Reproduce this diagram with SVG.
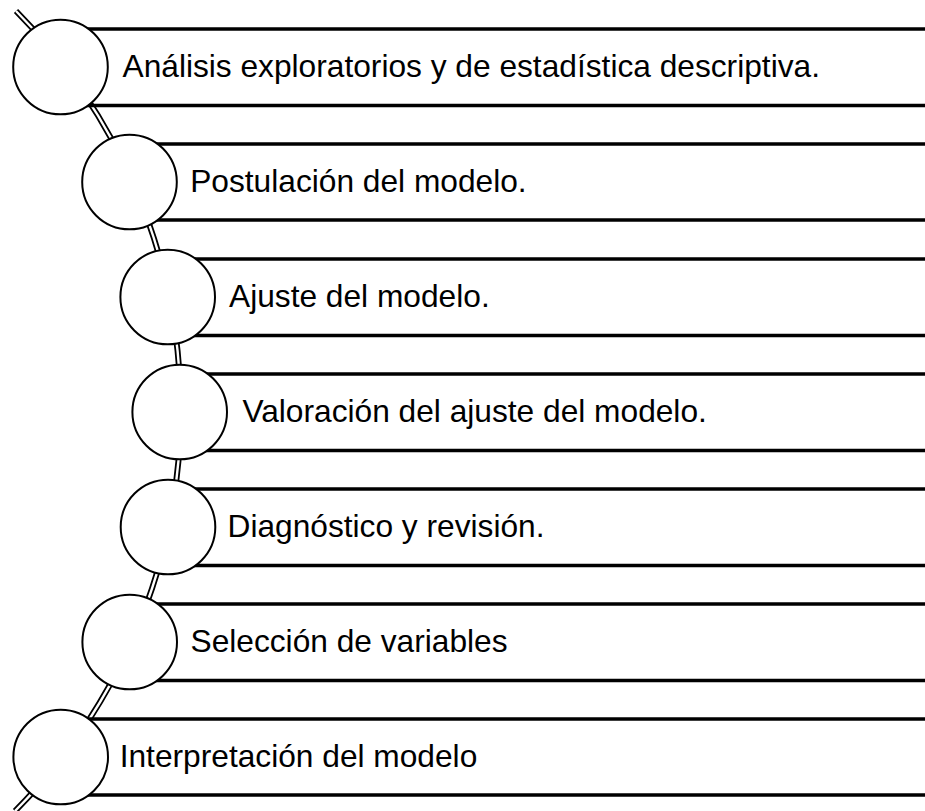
<svg xmlns="http://www.w3.org/2000/svg" width="925" height="811" viewBox="0 0 925 811">
<style>
.arc-o{fill:none;stroke:#000;stroke-width:6}
.arc-i{fill:none;stroke:#fff;stroke-width:2.4}
.band{stroke:#000;stroke-width:3.4}
.dot{fill:#fff;stroke:#000;stroke-width:2}
.lbl{font-family:"Liberation Sans",Arial,sans-serif;font-size:31.7px;fill:#000}
</style>
<rect width="925" height="811" fill="#fff"/>
<g id="connectors">
<path class="arc-o" d="M 16 11 A 567 567 0 0 1 15 811"/>
<path class="arc-i" d="M 16 11 A 567 567 0 0 1 15 811"/>
</g>
<g id="node1">
<line class="band" x1="60.5" y1="29" x2="925" y2="29"/>
<line class="band" x1="60.5" y1="105.5" x2="925" y2="105.5"/>
<circle class="dot" cx="60.5" cy="67" r="47.3"/>
<text class="lbl" x="122.5" y="76.5">Análisis exploratorios y de estadística descriptiva.</text>
</g>
<g id="node2">
<line class="band" x1="129.5" y1="144" x2="925" y2="144"/>
<line class="band" x1="129.5" y1="220" x2="925" y2="220"/>
<circle class="dot" cx="129.5" cy="182" r="47.3"/>
<text class="lbl" x="190.2" y="191.5">Postulación del modelo.</text>
</g>
<g id="node3">
<line class="band" x1="167.7" y1="259" x2="925" y2="259"/>
<line class="band" x1="167.7" y1="335.5" x2="925" y2="335.5"/>
<circle class="dot" cx="167.7" cy="297" r="47.3"/>
<text class="lbl" x="229" y="306.5">Ajuste del modelo.</text>
</g>
<g id="node4">
<line class="band" x1="179.7" y1="374" x2="925" y2="374"/>
<line class="band" x1="179.7" y1="450.5" x2="925" y2="450.5"/>
<circle class="dot" cx="179.7" cy="412" r="47.3"/>
<text class="lbl" x="242.4" y="421.7">Valoración del ajuste del modelo.</text>
</g>
<g id="node5">
<line class="band" x1="168" y1="489" x2="925" y2="489"/>
<line class="band" x1="168" y1="565.5" x2="925" y2="565.5"/>
<circle class="dot" cx="168" cy="527" r="47.3"/>
<text class="lbl" x="227.5" y="536.7">Diagnóstico y revisión.</text>
</g>
<g id="node6">
<line class="band" x1="129.7" y1="604" x2="925" y2="604"/>
<line class="band" x1="129.7" y1="680.5" x2="925" y2="680.5"/>
<circle class="dot" cx="129.7" cy="642" r="47.3"/>
<text class="lbl" x="190.5" y="651.7">Selección de variables</text>
</g>
<g id="node7">
<line class="band" x1="60.7" y1="719" x2="925" y2="719"/>
<line class="band" x1="60.7" y1="795" x2="925" y2="795"/>
<circle class="dot" cx="60.7" cy="757" r="47.3"/>
<text class="lbl" x="119.7" y="767.3">Interpretación del modelo</text>
</g>
</svg>
